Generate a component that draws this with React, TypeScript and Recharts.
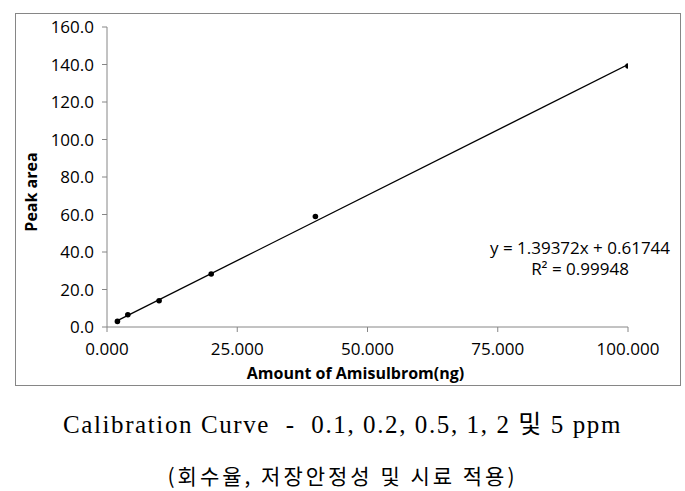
import { ScatterChart, Scatter, XAxis, YAxis, Label } from 'recharts';

// amount (ng) vs peak area
const amounts = [2, 4, 10, 20, 40, 100];
const peakAreas = [3.0, 6.5, 14.0, 28.3, 58.9, 139.2];

// linear trendline endpoints (y = 1.39372x + 0.61744)
const trendX = [2, 100];
const trendY = [3.405, 139.99];

const xTicks = [0, 25, 50, 75, 100];
const yTicks = [0, 20, 40, 60, 80, 100, 120, 140, 160];

const equationText = 'y = 1.39372x + 0.61744';
const r2Text = 'R² = 0.99948';
const captionLine1 = 'Calibration Curve  -  0.1, 0.2, 0.5, 1, 2 및 5 ppm';
const captionLine2 = '(회수율, 저장안정성 및 시료 적용)';

const points = amounts.map((x, i) => ({ x, y: peakAreas[i] }));
const trend = trendX.map((x, i) => ({ x, y: trendY[i] }));

const axisColor = '#868686';
const font = '"Open Sans", Calibri, sans-serif';

const Dot = (props: any) => <circle cx={props.cx} cy={props.cy} r={2.8} fill="#000" />;

export default function App() {
  return (
    <div style={{ position: 'absolute', left: 0, top: 0, width: 685, height: 491, background: '#fff' }}>
      <div
        style={{
          position: 'absolute',
          left: 15,
          top: 13,
          width: 664,
          height: 371,
          border: `1px solid ${axisColor}`,
        }}
      />
      <div style={{ position: 'absolute', left: 0, top: 0 }}>
        <ScatterChart width={685} height={400} margin={{ top: 27, right: 57, bottom: 23, left: 47 }}>
          <XAxis
            type="number"
            dataKey="x"
            domain={[0, 100]}
            ticks={xTicks}
            tickFormatter={(v: number) => v.toFixed(3)}
            stroke={axisColor}
            tickSize={5}
            tickMargin={11}
            height={50}
            tick={{ fill: '#000', fontSize: 17, fontFamily: font }}
            allowDataOverflow
          >
            <Label
              value="Amount of Amisulbrom(ng)"
              position="insideBottom"
              offset={-2}
              dx={-12}
              style={{ fill: '#000', fontSize: 16, fontWeight: 'bold', fontFamily: font }}
            />
          </XAxis>
          <YAxis
            type="number"
            dataKey="y"
            domain={[0, 160]}
            ticks={yTicks}
            tickFormatter={(v: number) => v.toFixed(1)}
            stroke={axisColor}
            tickSize={5}
            tickMargin={8}
            width={60}
            tick={{ fill: '#000', fontSize: 17, fontFamily: font }}
          >
            <Label
              value="Peak area"
              angle={-90}
              position="insideLeft"
              offset={-16}
              dy={15}
              style={{ textAnchor: 'middle', fill: '#000', fontSize: 16, fontWeight: 'bold', fontFamily: font }}
            />
          </YAxis>
          <Scatter
            data={trend}
            line={{ stroke: '#000', strokeWidth: 1.3 }}
            shape={() => null}
            isAnimationActive={false}
          />
          <Scatter data={points} fill="#000" shape={Dot} isAnimationActive={false} />
        </ScatterChart>
      </div>
      <div
        style={{
          position: 'absolute',
          left: 470,
          top: 237,
          width: 220,
          textAlign: 'center',
          fontFamily: font,
          fontSize: 17,
          lineHeight: '21px',
          color: '#000',
        }}
      >
        <div>{equationText}</div>
        <div>{r2Text}</div>
      </div>
      <div
        style={{
          position: 'absolute',
          left: 0,
          top: 408,
          width: 685,
          textAlign: 'center',
          fontFamily: '"Liberation Serif", "Noto Sans CJK KR", serif',
          fontSize: 25,
          lineHeight: '34px',
          letterSpacing: 1.6,
          color: '#000',
          whiteSpace: 'pre',
        }}
      >
        {captionLine1}
      </div>
      <div
        style={{
          position: 'absolute',
          left: 0,
          top: 459,
          width: 685,
          textAlign: 'center',
          fontFamily: '"Noto Sans CJK KR", "Liberation Serif", serif',
          fontSize: 21,
          fontWeight: 400,
          lineHeight: '32px',
          letterSpacing: 3,
          color: '#000',
          whiteSpace: 'pre',
        }}
      >
        {captionLine2}
      </div>
    </div>
  );
}
